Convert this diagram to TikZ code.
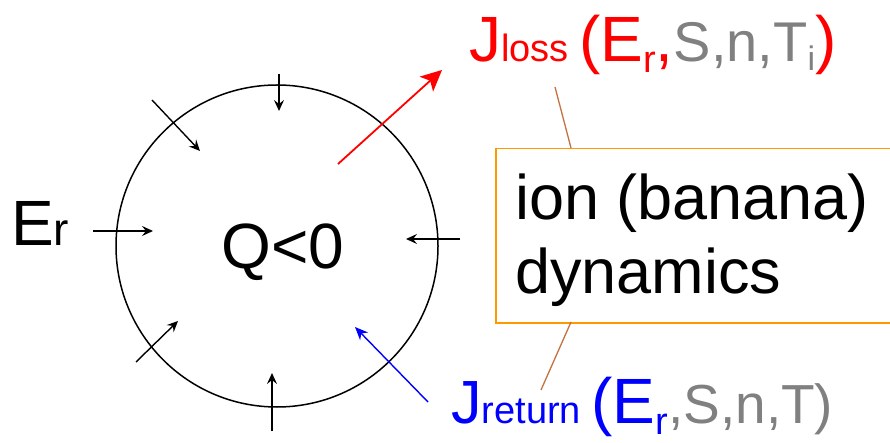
\documentclass[tikz,border=0pt]{standalone}
\usepackage{fontspec}
\setmainfont{Liberation Sans}
\usetikzlibrary{arrows.meta}
\definecolor{boxorange}{RGB}{255,153,0}
\definecolor{brownline}{RGB}{195,115,65}
\definecolor{grtext}{RGB}{128,128,128}
\newcommand{\fs}[1]{\fontsize{#1}{#1}\selectfont}
\tikzset{
  txt/.style={inner sep=0pt, anchor=base west},
  inarrow/.style={line width=1.4pt, -{Stealth[length=11pt,width=10pt,inset=4pt]}},
  lossarrow/.style={red, line width=1.8pt, -{Stealth[length=21pt,width=20pt,inset=5pt]}},
  retarrow/.style={blue, line width=1.4pt, -{Stealth[length=13pt,width=11pt,inset=4pt]}},
  callout/.style={brownline, line width=1.3pt},
}
\begin{document}
\begin{tikzpicture}[x=1pt,y=-1pt]
\useasboundingbox[fill=white] (0,0) rectangle (890,443);
% plasma circle
\node[draw, circle, minimum size=322pt, inner sep=0pt, line width=1.5pt] (c) at (277,246) {};
\node[inner sep=0pt, anchor=base] (q) at (283,269) {\fs{64}Q<0};
% Er label
\node[txt] (er) at (11,246) {\fs{64}E\fs{46}r};
% inward arrows
\coordinate (t0) at (279,74);  \coordinate (t1) at (279,111);
\coordinate (ul0) at (152,100); \coordinate (ul1) at (200,151);
\coordinate (l0) at (93,231);  \coordinate (l1) at (153,231);
\coordinate (r0) at (460,239); \coordinate (r1) at (406,239);
\coordinate (ll0) at (136,362); \coordinate (ll1) at (178,321);
\coordinate (b0) at (272,431); \coordinate (b1) at (272,373);
\draw[inarrow] (t0) -- (t1);
\draw[inarrow] (ul0) -- (ul1);
\draw[inarrow] (l0) -- (l1);
\draw[inarrow] (r0) -- (r1);
\draw[inarrow] (ll0) -- (ll1);
\draw[inarrow] (b0) -- (b1);
% loss and return arrows
\coordinate (lo0) at (338,164); \coordinate (lo1) at (442,70);
\coordinate (re0) at (428,402); \coordinate (re1) at (355,327);
\draw[lossarrow] (lo0) -- (lo1);
\draw[retarrow] (re0) -- (re1);
% box
\node[draw=boxorange, line width=1.5pt, anchor=north west, minimum width=402pt, minimum height=174pt, inner sep=0pt] (box) at (495,148) {};
\node[txt] (ion1) at (515,220) {\fs{63}ion (banana)};
\node[txt] (ion2) at (515,293) {\fs{63}dynamics};
% labels
\node[txt, red] (jloss) at (469,62) {\fs{64}J\fs{38}loss\ \fs{64}(E\raisebox{-11pt}{\fs{38}r}\fs{64},\textcolor{grtext}{\fs{56}S,n,T\raisebox{-9pt}{\fs{34}i}}\fs{64})};
\node[txt, blue] (jret) at (451,423) {\fs{61}J\fs{38}return\ \fs{64}(E\raisebox{-11pt}{\fs{38}r}\textcolor{grtext}{\fs{55},S,n,T)}};
% callout lines
\coordinate (cl0) at (555,87); \coordinate (cl1) at (571,148);
\coordinate (cr0) at (571,322); \coordinate (cr1) at (541,390);
\draw[callout] (cl0) -- (cl1);
\draw[callout] (cr0) -- (cr1);
\end{tikzpicture}
\end{document}
